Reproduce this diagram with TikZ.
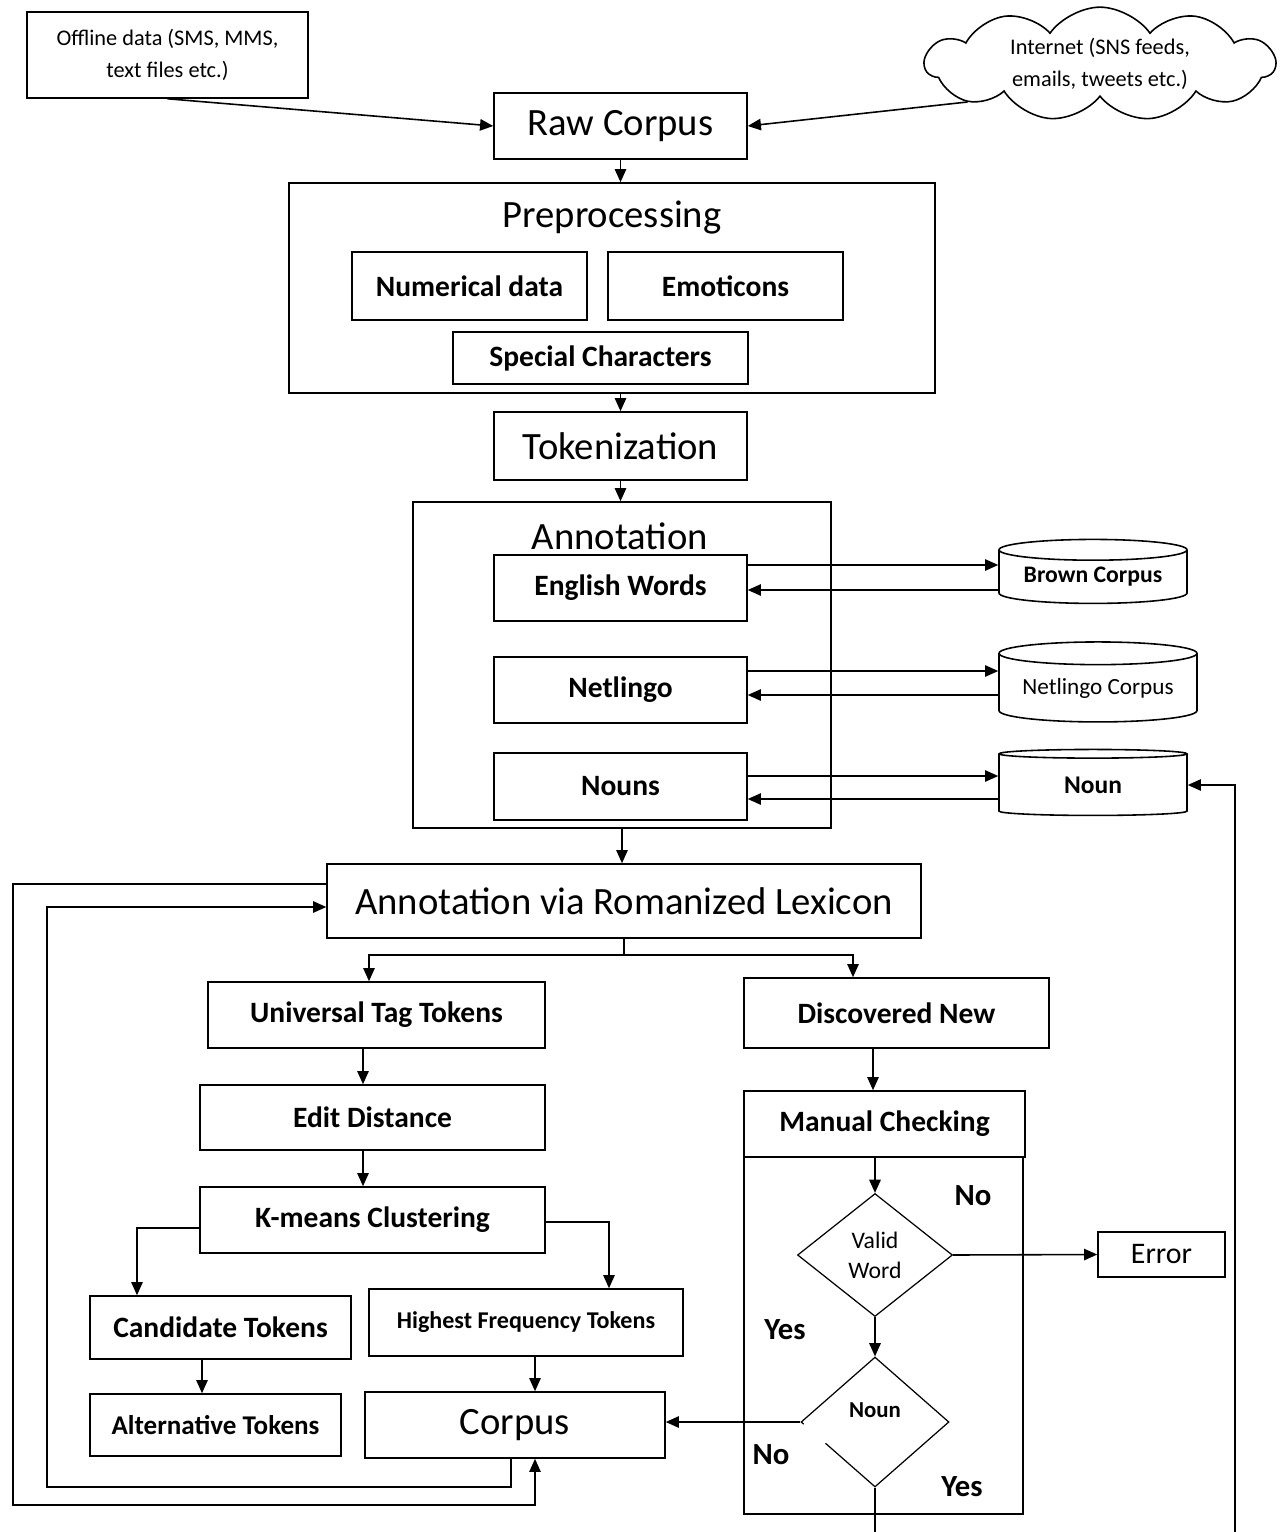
\documentclass[tikz,border=0pt]{standalone}
\usepackage{fontspec}
\setmainfont{Carlito}
\usetikzlibrary{arrows.meta,calc,positioning,shapes.geometric,shapes.symbols}

\begin{document}
\begin{tikzpicture}[x=0.02cm, y=-0.02cm, line width=0.9pt,
	>={Triangle[length=7.5pt,width=6.5pt]},
	box/.style={draw, rectangle, inner sep=2pt, align=center},
	hugefont/.style={font=\fontsize{22}{26}\selectfont},
	bigfont/.style={font=\fontsize{22}{26}\selectfont},
	midfont/.style={font=\bfseries\fontsize{16.8}{19}\selectfont},
	smallfont/.style={font=\fontsize{12.7}{18}\selectfont},
	db/.style={draw, cylinder, shape border rotate=90, aspect=0.15, inner sep=0pt, align=center},
	choice/.style={draw, diamond, inner sep=0pt, line width=0.7pt, align=center},
	answer/.style={font=\bfseries\fontsize{17.5}{20}\selectfont}]
	\useasboundingbox (0,0) rectangle (1281,1532);

	% sources
	\node[box, smallfont, minimum width=5.62cm, minimum height=1.72cm] (offline) at (167.5,55) {Offline data (SMS, MMS,\\ text files etc.)};
	\node[draw, cloud, cloud puffs=11, cloud puff arc=110, aspect=4.2, inner sep=0pt, minimum width=7cm, minimum height=1.45cm, smallfont, align=center] (internet) at (1100,64) {Internet (SNS feeds,\\ emails, tweets etc.)};
	\node[box, hugefont, minimum width=5.06cm, minimum height=1.32cm] (raw) at (620.5,126) {Raw Corpus};

	% preprocessing
	\node[box, minimum width=12.92cm, minimum height=4.2cm] (prep) at (612,288) {};
	\node[hugefont] (preptitle) at (612,218) {Preprocessing};
	\node[box, midfont, minimum width=4.7cm, minimum height=1.36cm] (numeric) at (469.5,286) {Numerical data};
	\node[box, midfont, minimum width=4.7cm, minimum height=1.36cm] (emoticon) at (725.5,286) {Emoticons};
	\node[box, midfont, minimum width=5.9cm, minimum height=1.04cm] (special) at (600.5,358) {Special Characters};
	\node[box, hugefont, minimum width=5.06cm, minimum height=1.36cm] (token) at (620.5,446) {Tokenization};

	% annotation
	\node[box, minimum width=8.36cm, minimum height=6.52cm] (annot) at (622,665) {};
	\node[bigfont] (annottitle) at (620,536) {Annotation};
	\node[box, midfont, minimum width=5.06cm, minimum height=1.32cm] (english) at (620.5,588) {English Words};
	\node[box, midfont, minimum width=5.06cm, minimum height=1.32cm] (netlingo) at (620.5,690) {Netlingo};
	\node[box, midfont, minimum width=5.06cm, minimum height=1.34cm] (nouns) at (620.5,786.5) {Nouns};
	\node[db, font=\bfseries\fontsize{13.5}{16}\selectfont, minimum width=3.76cm, minimum height=1.28cm] (brown) at (1093,577) {Brown Corpus};
	\node[db, font=\fontsize{13.2}{16}\selectfont, minimum width=3.96cm, minimum height=1.6cm] (netcorpus) at (1098,688) {Netlingo Corpus};
	\node[db, font=\bfseries\fontsize{14.5}{17}\selectfont, minimum width=3.76cm, minimum height=1.32cm] (noundb) at (1093,785) {Noun};

	% lexicon and the two branches
	\node[box, bigfont, minimum width=11.88cm, minimum height=1.48cm] (lexicon) at (624,901) {Annotation via Romanized Lexicon};
	\node[box, midfont, minimum width=6.74cm, minimum height=1.32cm] (universal) at (376.5,1015) {Universal Tag Tokens};
	\node[box, midfont, minimum width=6.1cm, minimum height=1.4cm] (discovered) at (896.5,1013) {Discovered New};
	\node[box, midfont, minimum width=6.9cm, minimum height=1.3cm] (editdist) at (372.5,1117.5) {Edit Distance};
	\node[box, midfont, minimum width=6.9cm, minimum height=1.32cm] (kmeans) at (372.5,1220) {K-means Clustering};
	\node[box, midfont, minimum width=5.22cm, minimum height=1.26cm] (candidate) at (220.5,1327.5) {Candidate Tokens};
	\node[box, font=\bfseries\fontsize{13.7}{16}\selectfont, minimum width=6.28cm, minimum height=1.34cm] (highest) at (526,1322.5) {Highest Frequency Tokens};
	\node[box, font=\bfseries\fontsize{15.4}{18}\selectfont, minimum width=5.02cm, minimum height=1.24cm] (alternative) at (215.5,1425) {Alternative Tokens};
	\node[box, bigfont, minimum width=6cm, minimum height=1.32cm] (corpus) at (515,1425) {Corpus};

	% manual checking
	\node[draw, minimum width=5.58cm, minimum height=7.14cm] (checkarea) at (883.5,1335.5) {};
	\node[box, midfont, fill=white, minimum width=5.62cm, minimum height=1.32cm] (manual) at (884.5,1124) {Manual Checking};
	\node[choice, font=\fontsize{13.5}{17}\selectfont, minimum width=3.1cm, minimum height=2.46cm] (valid) at (875,1255) {Valid\\Word};
	\node[choice, minimum width=2.96cm, minimum height=2.6cm, label={[font=\bfseries\fontsize{13}{15}\selectfont, yshift=6.8pt]center:Noun}] (nounchk) at (875,1422) {};
	\node[box, font=\fontsize{17}{20}\selectfont, minimum width=2.54cm, minimum height=0.9cm] (error) at (1161.5,1254.5) {Error};
	\node[answer] (novalid) at (973,1196) {No};
	\node[answer] (yesvalid) at (785,1330) {Yes};
	\node[answer] (nonoun) at (771,1455) {No};
	\node[answer] (yesnoun) at (962,1487) {Yes};

	% main chain
	\draw[->] (offline.south) -- (raw.west);
	\draw[->] (internet.196) -- (raw.east);
	\draw[->] (raw.south) -- (raw.south |- prep.north);
	\draw[->] (token.north |- prep.south) -- (token.north);
	\draw[->] (token.south) -- (token.south |- annot.north);
	\draw[->] (annot.south) -- (annot.south |- lexicon.north);

	% lookups
	\draw[->] ($(english.east)+(0,-23)$) -- ($(brown.west)+(0,-12)$);
	\draw[->] ($(brown.west)+(0,13)$) -- ($(english.east)+(0,2)$);
	\draw[->] ($(netlingo.east)+(0,-19)$) -- ($(netcorpus.west)+(0,-17)$);
	\draw[->] ($(netcorpus.west)+(0,7)$) -- ($(netlingo.east)+(0,5)$);
	\draw[->] ($(nouns.east)+(0,-10.5)$) -- ($(noundb.west)+(0,-9)$);
	\draw[->] ($(noundb.west)+(0,14)$) -- ($(nouns.east)+(0,12.5)$);

	% left branch
	\draw[->] (lexicon.south) -- ++(0,16) -| ($(universal.north)+(-7.5,0)$);
	\draw[->] (lexicon.south) -- ++(0,16) -| ($(discovered.north)+(-43.5,0)$);
	\draw[->] ($(universal.south)+(-13.5,0)$) -- ($(editdist.north)+(-9.5,0)$);
	\draw[->] ($(editdist.south)+(-9.5,0)$) -- ($(kmeans.north)+(-9.5,0)$);
	\draw[->] ($(kmeans.west)+(0,8)$) -| ($(candidate.north)+(-83.5,0)$);
	\draw[->] ($(kmeans.east)+(0,2)$) -| ($(highest.north)+(83,0)$);
	\draw[->] ($(candidate.south)+(-18.5,0)$) -- ($(alternative.north)+(-13.5,0)$);
	\draw[->] ($(highest.south)+(9,0)$) -- ($(corpus.north)+(20,0)$);
	\draw[->] ($(lexicon.west)+(0,-17)$) -| (13,1505) -| ($(corpus.south)+(20,0)$);
	\draw[->] ($(corpus.south)+(-4,0)$) |- (47,1487) |- ($(lexicon.west)+(0,6)$);

	% right branch
	\draw[->] ($(discovered.south)+(-23.5,0)$) -- ($(manual.north)+(-11.5,0)$);
	\draw[->] (valid.north |- manual.south) -- (valid.north);
	\draw[->] (valid.east) -- (error.west);
	\draw[->] (valid.south) -- (nounchk.north);
	\draw[->] (nounchk.west) -- (nounchk.west -| corpus.east);
	\draw[white, line width=2.5pt] ($(nounchk.west)!0.04!(nounchk.south)$) -- ($(nounchk.west)!0.33!(nounchk.south)$);
	\draw[->] (nounchk.south) |- (1235,1545) |- (noundb.east);
\end{tikzpicture}
\end{document}
